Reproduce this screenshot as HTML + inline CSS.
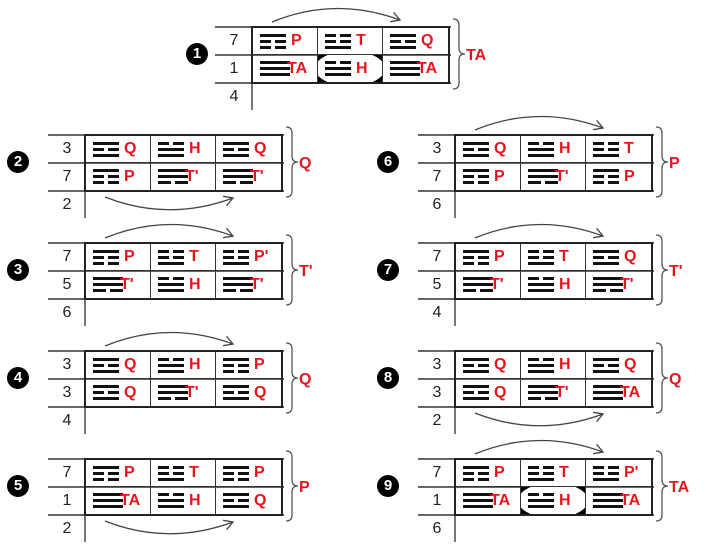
<!DOCTYPE html>
<html><head><meta charset="utf-8"><style>
body{margin:0;width:707px;height:544px;background:#fff;position:relative;overflow:hidden;font-family:"Liberation Sans",Arial,sans-serif}
.tb{position:absolute;width:236px;height:84px;background:linear-gradient(#666,#666) 0 0/236px 2px no-repeat,linear-gradient(#666,#666) 0 28px/236px 2px no-repeat,linear-gradient(#666,#666) 0 56px/236px 2px no-repeat,linear-gradient(#777,#777) 36px 0/2px 84px no-repeat}
.n{position:absolute;left:2px;width:34px;text-align:center;height:28px;line-height:30px;font-size:16px;color:#222}
.gr{position:absolute;left:36px;top:0;width:199px;height:58px;box-sizing:border-box;border:2px solid #222;display:grid;grid-template-columns:1fr 1fr 1fr;grid-template-rows:1fr 1fr}
.c{display:flex;align-items:center;padding-left:7px;position:relative;border-right:1.5px solid #333;border-bottom:1.5px solid #333;overflow:hidden}
.c:nth-child(3n){border-right:none}.c:nth-child(n+4){border-bottom:none}
.c b{font-size:16px;color:#e8141c;margin-left:5px;position:relative;z-index:2}
.c b.w{margin-left:-3px}
.hl{background:#000}
.hl::before{content:"";position:absolute;left:-3px;right:-3px;top:-4px;bottom:-4px;background:#fff;border-radius:50%}
.g{display:block;width:26px;height:15px;position:relative;z-index:2;flex:none}
.g.P{background:linear-gradient(#111,#111) 0 0/26px 3px no-repeat,linear-gradient(#111,#111) 0 6px/11px 3px no-repeat,linear-gradient(#111,#111) 15px 6px/11px 3px no-repeat,linear-gradient(#111,#111) 0 12px/11px 3px no-repeat,linear-gradient(#111,#111) 15px 12px/11px 3px no-repeat}
.g.T{background:linear-gradient(#111,#111) 0 0/11px 3px no-repeat,linear-gradient(#111,#111) 15px 0/11px 3px no-repeat,linear-gradient(#111,#111) 0 6px/11px 3px no-repeat,linear-gradient(#111,#111) 15px 6px/11px 3px no-repeat,linear-gradient(#111,#111) 0 12px/26px 3px no-repeat}
.g.Q{background:linear-gradient(#111,#111) 0 0/26px 3px no-repeat,linear-gradient(#111,#111) 0 6px/11px 3px no-repeat,linear-gradient(#111,#111) 15px 6px/11px 3px no-repeat,linear-gradient(#111,#111) 0 12px/26px 3px no-repeat}
.g.H{background:linear-gradient(#111,#111) 0 0/11px 3px no-repeat,linear-gradient(#111,#111) 15px 0/11px 3px no-repeat,linear-gradient(#111,#111) 0 6px/26px 3px no-repeat,linear-gradient(#111,#111) 0 12px/26px 3px no-repeat}
.g.A{width:30px;background:linear-gradient(#111,#111) 0 0/30px 3px no-repeat,linear-gradient(#111,#111) 0 6px/30px 3px no-repeat,linear-gradient(#111,#111) 0 12px/30px 3px no-repeat}
.g.R{width:30px;background:linear-gradient(#111,#111) 0 0/30px 3px no-repeat,linear-gradient(#111,#111) 0 6px/30px 3px no-repeat,linear-gradient(#111,#111) 0 12px/13px 3px no-repeat,linear-gradient(#111,#111) 17px 12px/13px 3px no-repeat}
.g.X{background:linear-gradient(#111,#111) 0 0/11px 3px no-repeat,linear-gradient(#111,#111) 15px 0/11px 3px no-repeat,linear-gradient(#111,#111) 0 6px/11px 3px no-repeat,linear-gradient(#111,#111) 15px 6px/11px 3px no-repeat,linear-gradient(#111,#111) 0 12px/26px 3px no-repeat}
.k{position:absolute;width:22px;height:22px;border-radius:50%;background:#000;color:#fff;font-weight:bold;font-size:15px;text-align:center;line-height:22px}
svg{position:absolute;left:0;top:0}
.bl{font:bold 16px "Liberation Sans",Arial,sans-serif;fill:#e8141c}
</style></head><body>

<div class="k" style="left:186px;top:43px">1</div>
<div class="tb" style="left:215px;top:26px"><div class="n" style="top:0">7</div><div class="n" style="top:28px">1</div><div class="n" style="top:56px">4</div>
<div class="gr"><div class="c"><i class="g P"></i><b>P</b></div><div class="c"><i class="g T"></i><b>T</b></div><div class="c"><i class="g Q"></i><b>Q</b></div>
<div class="c"><i class="g A"></i><b class="w">TA</b></div><div class="c hl"><i class="g H"></i><b>H</b></div><div class="c"><i class="g A"></i><b class="w">TA</b></div></div></div>

<div class="k" style="left:7px;top:151px">2</div>
<div class="tb" style="left:48px;top:134px"><div class="n" style="top:0">3</div><div class="n" style="top:28px">7</div><div class="n" style="top:56px">2</div>
<div class="gr"><div class="c"><i class="g Q"></i><b>Q</b></div><div class="c"><i class="g H"></i><b>H</b></div><div class="c"><i class="g Q"></i><b>Q</b></div>
<div class="c"><i class="g P"></i><b>P</b></div><div class="c"><i class="g R"></i><b class="w">T'</b></div><div class="c"><i class="g R"></i><b class="w">T'</b></div></div></div>

<div class="k" style="left:7px;top:259px">3</div>
<div class="tb" style="left:48px;top:242px"><div class="n" style="top:0">7</div><div class="n" style="top:28px">5</div><div class="n" style="top:56px">6</div>
<div class="gr"><div class="c"><i class="g P"></i><b>P</b></div><div class="c"><i class="g T"></i><b>T</b></div><div class="c"><i class="g X"></i><b>P'</b></div>
<div class="c"><i class="g R"></i><b class="w">T'</b></div><div class="c"><i class="g H"></i><b>H</b></div><div class="c"><i class="g R"></i><b class="w">T'</b></div></div></div>

<div class="k" style="left:7px;top:367px">4</div>
<div class="tb" style="left:48px;top:350px"><div class="n" style="top:0">3</div><div class="n" style="top:28px">3</div><div class="n" style="top:56px">4</div>
<div class="gr"><div class="c"><i class="g Q"></i><b>Q</b></div><div class="c"><i class="g H"></i><b>H</b></div><div class="c"><i class="g P"></i><b>P</b></div>
<div class="c"><i class="g Q"></i><b>Q</b></div><div class="c"><i class="g R"></i><b class="w">T'</b></div><div class="c"><i class="g Q"></i><b>Q</b></div></div></div>

<div class="k" style="left:7px;top:475px">5</div>
<div class="tb" style="left:48px;top:458px"><div class="n" style="top:0">7</div><div class="n" style="top:28px">1</div><div class="n" style="top:56px">2</div>
<div class="gr"><div class="c"><i class="g P"></i><b>P</b></div><div class="c"><i class="g T"></i><b>T</b></div><div class="c"><i class="g P"></i><b>P</b></div>
<div class="c"><i class="g A"></i><b class="w">TA</b></div><div class="c"><i class="g H"></i><b>H</b></div><div class="c"><i class="g Q"></i><b>Q</b></div></div></div>

<div class="k" style="left:377px;top:151px">6</div>
<div class="tb" style="left:418px;top:134px"><div class="n" style="top:0">3</div><div class="n" style="top:28px">7</div><div class="n" style="top:56px">6</div>
<div class="gr"><div class="c"><i class="g Q"></i><b>Q</b></div><div class="c"><i class="g H"></i><b>H</b></div><div class="c"><i class="g T"></i><b>T</b></div>
<div class="c"><i class="g P"></i><b>P</b></div><div class="c"><i class="g R"></i><b class="w">T'</b></div><div class="c"><i class="g P"></i><b>P</b></div></div></div>

<div class="k" style="left:377px;top:259px">7</div>
<div class="tb" style="left:418px;top:242px"><div class="n" style="top:0">7</div><div class="n" style="top:28px">5</div><div class="n" style="top:56px">4</div>
<div class="gr"><div class="c"><i class="g P"></i><b>P</b></div><div class="c"><i class="g T"></i><b>T</b></div><div class="c"><i class="g Q"></i><b>Q</b></div>
<div class="c"><i class="g R"></i><b class="w">T'</b></div><div class="c"><i class="g H"></i><b>H</b></div><div class="c"><i class="g R"></i><b class="w">T'</b></div></div></div>

<div class="k" style="left:377px;top:367px">8</div>
<div class="tb" style="left:418px;top:350px"><div class="n" style="top:0">3</div><div class="n" style="top:28px">3</div><div class="n" style="top:56px">2</div>
<div class="gr"><div class="c"><i class="g Q"></i><b>Q</b></div><div class="c"><i class="g H"></i><b>H</b></div><div class="c"><i class="g Q"></i><b>Q</b></div>
<div class="c"><i class="g Q"></i><b>Q</b></div><div class="c"><i class="g R"></i><b class="w">T'</b></div><div class="c"><i class="g A"></i><b class="w">TA</b></div></div></div>

<div class="k" style="left:377px;top:475px">9</div>
<div class="tb" style="left:418px;top:458px"><div class="n" style="top:0">7</div><div class="n" style="top:28px">1</div><div class="n" style="top:56px">6</div>
<div class="gr"><div class="c"><i class="g P"></i><b>P</b></div><div class="c"><i class="g T"></i><b>T</b></div><div class="c"><i class="g X"></i><b>P'</b></div>
<div class="c"><i class="g A"></i><b class="w">TA</b></div><div class="c hl"><i class="g H"></i><b>H</b></div><div class="c"><i class="g A"></i><b class="w">TA</b></div></div></div>

<svg width="707" height="544" viewBox="0 0 707 544" fill="none" stroke="#444" stroke-width="1.3">
<path d="M272,22 Q335,-4 400,20 M393.6,12.3 L400,20 L390.1,21.7"/>
<path d="M105,197 Q168,222 233,198 M226.6,205.7 L233,198 L223.1,196.3"/>
<path d="M105,238 Q168,212 233,236 M226.6,228.3 L233,236 L223.1,237.7"/>
<path d="M105,346 Q168,320 233,344 M226.6,336.3 L233,344 L223.1,345.7"/>
<path d="M105,521 Q168,546 233,522 M226.6,529.7 L233,522 L223.1,520.3"/>
<path d="M475,130 Q538,104 603,128 M596.6,120.3 L603,128 L593.1,129.7"/>
<path d="M475,238 Q538,212 603,236 M596.6,228.3 L603,236 L593.1,237.7"/>
<path d="M475,413 Q538,438 603,414 M596.6,421.7 L603,414 L593.1,412.3"/>
<path d="M475,454 Q538,428 603,452 M596.6,444.3 L603,452 L593.1,453.7"/>
<g stroke="#555">
<path d="M453,19 q6,0 6,6 v23 q0,6 6,6 q-6,0 -6,6 v23 q0,6 -6,6"/>
<path d="M286,127 q6,0 6,6 v23 q0,6 6,6 q-6,0 -6,6 v23 q0,6 -6,6"/>
<path d="M286,235 q6,0 6,6 v23 q0,6 6,6 q-6,0 -6,6 v23 q0,6 -6,6"/>
<path d="M286,343 q6,0 6,6 v23 q0,6 6,6 q-6,0 -6,6 v23 q0,6 -6,6"/>
<path d="M286,451 q6,0 6,6 v23 q0,6 6,6 q-6,0 -6,6 v23 q0,6 -6,6"/>
<path d="M656,127 q6,0 6,6 v23 q0,6 6,6 q-6,0 -6,6 v23 q0,6 -6,6"/>
<path d="M656,235 q6,0 6,6 v23 q0,6 6,6 q-6,0 -6,6 v23 q0,6 -6,6"/>
<path d="M656,343 q6,0 6,6 v23 q0,6 6,6 q-6,0 -6,6 v23 q0,6 -6,6"/>
<path d="M656,451 q6,0 6,6 v23 q0,6 6,6 q-6,0 -6,6 v23 q0,6 -6,6"/>
</g>
<g stroke="none">
<text class="bl" x="466" y="60">TA</text>
<text class="bl" x="299" y="168">Q</text>
<text class="bl" x="299" y="276">T'</text>
<text class="bl" x="299" y="384">Q</text>
<text class="bl" x="299" y="492">P</text>
<text class="bl" x="669" y="168">P</text>
<text class="bl" x="669" y="276">T'</text>
<text class="bl" x="669" y="384">Q</text>
<text class="bl" x="669" y="492">TA</text>
</g>
</svg>
</body></html>
